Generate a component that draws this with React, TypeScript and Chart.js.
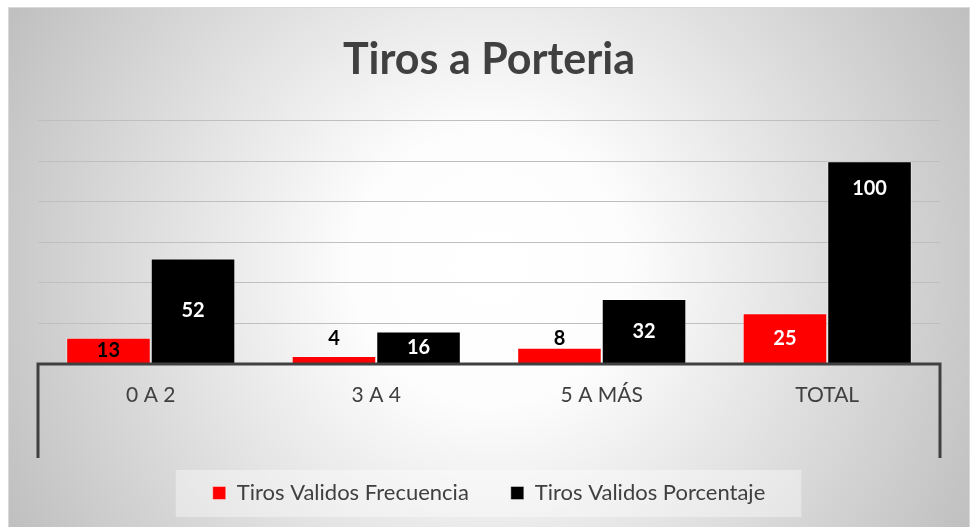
import React, { useEffect, useRef } from "react";
import { Chart, registerables } from "chart.js";

Chart.register(...registerables);

// ---- data ----
const categories = ["0 A 2", "3 A 4", "5 A MÁS", "TOTAL"];
const frecuencia = [13, 4, 8, 25];
const porcentaje = [52, 16, 32, 100];
const seriesNames = ["Tiros Validos Frecuencia", "Tiros Validos Porcentaje"];
const titleText = "Tiros a Porteria";
const yMin = 0;
const yMax = 120;
const yStep = 20;

// ---- styles ----
const FONT = "Lato";
const TEXT = "#404040";
const seriesColors = ["#ff0000", "#000000"];
const labelStyles = [
  { place: ["center", "outside", "outside", "center"], shift: [0, 17, 9, 0], color: ["#000000", "#000000", "#000000", "#ffffff"] },
  { place: ["center", "center", "center", "inside"], shift: [0, 0, 0, 27], color: ["#ffffff", "#ffffff", "#ffffff", "#ffffff"] },
];

const backgroundPlugin = {
  id: "frameBackground",
  beforeDraw(chart: any) {
    const { ctx, width: W, height: H } = chart;
    ctx.save();
    ctx.fillStyle = "#ffffff";
    ctx.fillRect(0, 0, W, H);
    const fx = 8, fy = 7, fw = W - 16, fh = H - fy + 2;
    const cx = fx + fw / 2, cy = fy + fh / 2;
    const r = Math.sqrt((fw / 2) ** 2 + (fh / 2) ** 2);
    const g = ctx.createRadialGradient(cx, cy, 0, cx, cy, r);
    g.addColorStop(0, "#ffffff");
    g.addColorStop(0.25, "#fdfdfd");
    g.addColorStop(1, "#bfbfbf");
    ctx.fillStyle = g;
    ctx.fillRect(fx, fy, fw, fh);
    ctx.strokeStyle = "#d9d9d9";
    ctx.lineWidth = 1;
    ctx.strokeRect(fx + 0.5, fy + 0.5, fw - 1, fh);
    // legend background
    const hb = chart.legend && chart.legend.legendHitBoxes;
    if (hb && hb.length) {
      const first = hb[0];
      const last = hb[hb.length - 1];
      const left = first.left - 37;
      const right = last.left + last.width + 36;
      const top = first.top - 12;
      const bottom = first.top + first.height + 13;
      ctx.fillStyle = "rgba(255,255,255,0.38)";
      ctx.fillRect(left, top, right - left, bottom - top);
    }
    ctx.restore();
  },
};

const axisPlugin = {
  id: "axisLines",
  afterDatasetsDraw(chart: any) {
    const { ctx, chartArea } = chart;
    const { left, right, bottom } = chartArea;
    ctx.save();
    ctx.strokeStyle = "#404040";
    ctx.lineWidth = 3;
    ctx.beginPath();
    ctx.moveTo(left - 1.5, bottom);
    ctx.lineTo(right + 1.5, bottom);
    ctx.moveTo(left, bottom);
    ctx.lineTo(left, bottom + 94);
    ctx.moveTo(right, bottom);
    ctx.lineTo(right, bottom + 94);
    ctx.stroke();
    ctx.restore();
  },
};

const dataLabelPlugin = {
  id: "dataLabels",
  afterDatasetsDraw(chart: any) {
    const ctx = chart.ctx;
    ctx.save();
    ctx.font = `bold 20px ${FONT}`;
    ctx.textAlign = "center";
    ctx.textBaseline = "middle";
    chart.data.datasets.forEach((ds: any, di: number) => {
      const meta = chart.getDatasetMeta(di);
      const st = labelStyles[di];
      meta.data.forEach((bar: any, i: number) => {
        const { x, y, base } = bar.getProps(["x", "y", "base"], true);
        let ly = (y + base) / 2;
        if (st.place[i] === "outside") ly = y - st.shift[i];
        else if (st.place[i] === "inside") ly = y + st.shift[i];
        ctx.fillStyle = st.color[i];
        ctx.fillText(String(ds.data[i]), x, ly);
      });
    });
    ctx.restore();
  },
};

export default function App() {
  const ref = useRef<HTMLCanvasElement | null>(null);
  useEffect(() => {
    document.body.style.margin = "0";
    if (!ref.current) return;
    const chart = new Chart(ref.current, {
      type: "bar",
      data: {
        labels: categories,
        datasets: [
          {
            label: seriesNames[0],
            data: frecuencia,
            backgroundColor: seriesColors[0],
            borderColor: "rgba(255,255,255,0.4)",
            borderWidth: 1,
          },
          {
            label: seriesNames[1],
            data: porcentaje,
            backgroundColor: seriesColors[1],
            borderColor: "rgba(255,255,255,0.4)",
            borderWidth: 1,
          },
        ],
      },
      options: {
        responsive: false,
        animation: false,
        events: [],
        layout: { padding: { top: 7, left: 38, right: 38, bottom: 13 } },
        datasets: { bar: { barPercentage: 1, categoryPercentage: 0.75 } },
        plugins: {
          tooltip: { enabled: false },
          title: {
            display: true,
            text: titleText,
            color: TEXT,
            font: { family: FONT, size: 43, weight: "bold" },
            padding: { top: 27, bottom: 35 },
          },
          legend: {
            position: "bottom",
            labels: {
              color: TEXT,
              font: { family: FONT, size: 22 },
              boxWidth: 13,
              boxHeight: 13,
              padding: 42,
            },
          },
        },
        scales: {
          x: {
            grid: { display: false, drawTicks: false },
            border: { display: false },
            ticks: { color: TEXT, font: { family: FONT, size: 21 }, padding: 19 },
            afterFit: (s: any) => {
              s.height = 76;
            },
          },
          y: {
            min: yMin,
            max: yMax,
            ticks: { display: false, stepSize: yStep },
            grid: { color: "#bfbfbf", lineWidth: 1, drawTicks: false },
            border: { display: false },
          },
        },
      },
      plugins: [backgroundPlugin, axisPlugin, dataLabelPlugin],
    } as any);
    return () => chart.destroy();
  }, []);
  return (
    <div style={{ width: 978, height: 527 }}>
      <canvas ref={ref} width={978} height={527} style={{ display: "block" }} />
    </div>
  );
}
